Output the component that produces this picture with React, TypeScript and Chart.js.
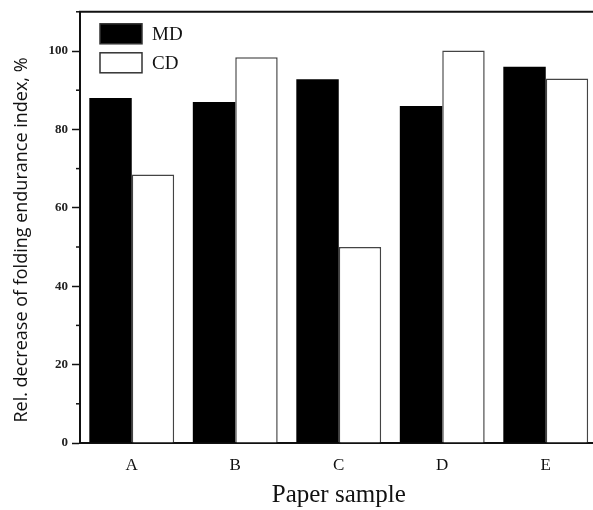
import React, { useEffect, useRef } from "react";
import { Chart, registerables } from "chart.js";

Chart.register(...registerables);

const categories = ["A", "B", "C", "D", "E"];
const mdValues = [88, 87, 92.8, 86, 96];
const cdValues = [68.5, 98.4, 50, 100.1, 93];
const seriesLabels = ["MD", "CD"];
const yMajorTicks = [0, 20, 40, 60, 80, 100];
const yMinorTicks = [10, 30, 50, 70, 90, 110];
const yTitle = "Rel. decrease of folding endurance index, %";
const xTitle = "Paper sample";

const framePlugin = {
  id: "frame",
  afterDraw(chart: any) {
    const { ctx, chartArea } = chart;
    const y = chart.scales.y;
    ctx.save();
    ctx.strokeStyle = "#111";
    ctx.lineWidth = 2;
    ctx.beginPath();
    ctx.moveTo(chartArea.left - 1, chartArea.top);
    ctx.lineTo(chartArea.right, chartArea.top);
    ctx.moveTo(chartArea.right, chartArea.top);
    ctx.lineTo(chartArea.right, chartArea.bottom);
    ctx.stroke();
    ctx.lineWidth = 1.5;
    for (const v of yMinorTicks) {
      const py = y.getPixelForValue(v);
      ctx.beginPath();
      ctx.moveTo(chartArea.left - 4, py);
      ctx.lineTo(chartArea.left, py);
      ctx.stroke();
    }
    // y axis title
    ctx.save();
    ctx.translate(22, 240);
    ctx.rotate(-Math.PI / 2);
    ctx.font = "18px 'Open Sans', sans-serif";
    ctx.fillStyle = "#111";
    ctx.textAlign = "center";
    ctx.textBaseline = "middle";
    ctx.fillText(yTitle, 0, 0);
    ctx.restore();
    // legend
    const boxX = chartArea.left + 20;
    const rows = [
      { top: chartArea.top + 12, fill: "#000" },
      { top: chartArea.top + 41, fill: "#fff" },
    ];
    ctx.font = "19px 'Liberation Serif', 'Times New Roman', serif";
    ctx.textBaseline = "middle";
    ctx.textAlign = "left";
    rows.forEach((r, i) => {
      ctx.fillStyle = r.fill;
      ctx.fillRect(boxX, r.top, 42, 20);
      ctx.lineWidth = 1.5;
      ctx.strokeStyle = "#333";
      ctx.strokeRect(boxX, r.top, 42, 20);
      ctx.fillStyle = "#111";
      ctx.fillText(seriesLabels[i], boxX + 52, r.top + 11);
    });
    ctx.restore();
  },
};

export default function App() {
  const ref = useRef<HTMLCanvasElement | null>(null);
  useEffect(() => {
    if (!ref.current) return;
    const chart = new Chart(ref.current, {
      type: "bar",
      data: {
        labels: categories,
        datasets: [
          {
            label: seriesLabels[0],
            data: mdValues,
            backgroundColor: "#000",
            borderColor: "#000",
            borderWidth: 0,
          },
          {
            label: seriesLabels[1],
            data: cdValues,
            backgroundColor: "#fff",
            borderColor: "#444",
            borderWidth: 1.5,
          },
        ],
      },
      options: {
        responsive: false,
        animation: false,
        devicePixelRatio: 1,
        layout: { padding: { top: 11, right: 7.5, left: 0, bottom: 0 } },
        plugins: { legend: { display: false }, tooltip: { enabled: false } },
        datasets: { bar: { categoryPercentage: 0.82, barPercentage: 1 } },
        scales: {
          x: {
            grid: { display: false, drawTicks: false },
            border: { display: true, color: "#111", width: 2 },
            ticks: {
              color: "#111",
              padding: 12,
              font: { family: "'Liberation Serif', 'Times New Roman', serif", size: 17 },
            },
            title: {
              display: true,
              text: xTitle,
              color: "#111",
              padding: { top: 4, bottom: 0 },
              font: { family: "'Liberation Serif', 'Times New Roman', serif", size: 25 },
            },
            afterFit(scale: any) {
              scale.height = 67;
            },
          },
          y: {
            min: 0,
            max: 110,
            grid: {
              drawOnChartArea: false,
              drawTicks: true,
              tickLength: 8,
              tickWidth: 1.5,
              tickColor: (c: any) =>
                yMajorTicks.includes(c.tick?.value) ? "#111" : "rgba(0,0,0,0)",
            },
            border: { display: true, color: "#111", width: 2 },
            ticks: {
              stepSize: 10,
              padding: 4,
              color: "#222",
              font: { family: "'Liberation Serif', 'Times New Roman', serif", size: 13, weight: "bold" },
              callback: (v: any) => (yMajorTicks.includes(Number(v)) ? String(v) : ""),
            },
            title: { display: false },
            afterFit(scale: any) {
              scale.width = 80;
            },
          },
        },
      },
      plugins: [framePlugin],
    });
    return () => chart.destroy();
  }, []);
  return (
    <div
      style={{
        position: "absolute",
        left: 0,
        top: 0,
        width: 593,
        height: 510,
        overflow: "hidden",
        background: "#fff",
      }}
    >
      <canvas ref={ref} width={605} height={510} style={{ width: 605, height: 510, display: "block" }} />
    </div>
  );
}
